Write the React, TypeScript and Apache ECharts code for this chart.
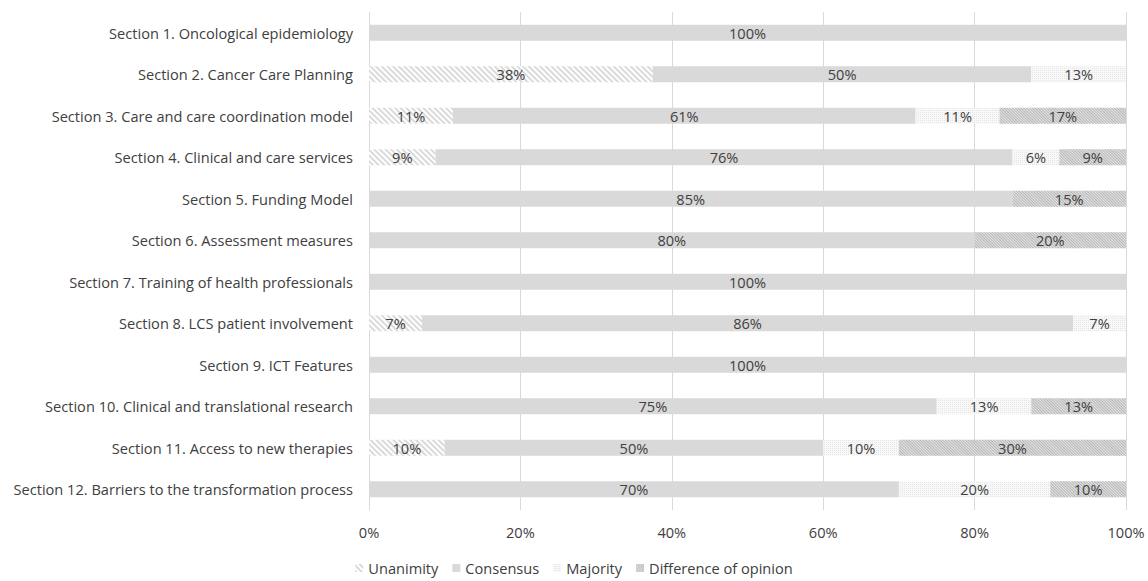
import React, { useEffect, useRef } from "react";
import * as echarts from "echarts";

const categories = [
  "Section 1. Oncological epidemiology",
  "Section 2. Cancer Care Planning",
  "Section 3. Care and care coordination model",
  "Section 4. Clinical and care services",
  "Section 5. Funding Model",
  "Section 6. Assessment measures",
  "Section 7. Training of health professionals",
  "Section 8. LCS patient involvement",
  "Section 9. ICT Features",
  "Section 10. Clinical and translational research",
  "Section 11. Access to new therapies",
  "Section 12. Barriers to the transformation process",
];

const unanimity = [null, 37.5, 11.1, 8.8, null, null, null, 7, null, null, 10, null];
const consensus = [100, 50, 61.1, 76.2, 85, 80, 100, 86, 100, 75, 50, 70];
const majority = [null, 12.5, 11.1, 6.2, null, null, null, 7, null, 12.5, 10, 20];
const difference = [null, null, 16.7, 8.8, 15, 20, null, null, null, 12.5, 30, 10];

const xTicks = [0, 20, 40, 60, 80, 100];

const FONT = "'Open Sans', Lato, sans-serif";
const TXT = "#404040";
const FS = 14.6;

export default function App() {
  const ref = useRef<HTMLDivElement>(null);
  useEffect(() => {
    document.body.style.margin = "0";
    const chart = echarts.init(ref.current!, null, { renderer: "svg" });
    const label = {
      show: true,
      position: "inside" as const,
      color: TXT,
      fontSize: FS,
      fontFamily: FONT,
      formatter: (p: any) => (p.value == null ? "" : Math.round(p.value) + "%"),
    };
    const mk = (name: string, data: any[], color: string, decal: any) => ({
      name,
      type: "bar",
      stack: "total",
      data,
      barWidth: 16,
      itemStyle: { color, decal },
      label,
      emphasis: { disabled: true },
    });
    chart.setOption({
      animation: false,
      aria: { enabled: false },
      textStyle: { fontFamily: FONT },
      grid: { left: 369, right: 22, top: 12, bottom: 71, containLabel: false },
      legend: {
        top: 560,
        padding: 0,
        left: "center",
        itemWidth: 8,
        itemHeight: 8,
        itemGap: 14,
        icon: "rect",
        textStyle: { color: TXT, fontSize: FS, fontFamily: FONT, lineHeight: 16 },
        data: ["Unanimity", "Consensus", "Majority", "Difference of opinion"],
      },
      xAxis: {
        type: "value",
        min: 0,
        max: 100,
        interval: 20,
        axisLine: { show: false },
        axisTick: { show: false },
        splitLine: { lineStyle: { color: "#d9d9d9", width: 1 } },
        axisLabel: {
          color: TXT,
          fontSize: FS,
          fontFamily: FONT,
          margin: 14,
          formatter: (v: number) => (xTicks.includes(v) ? v + "%" : ""),
        },
      },
      yAxis: {
        type: "category",
        inverse: true,
        data: categories,
        axisLine: { show: true, lineStyle: { color: "#d9d9d9" } },
        axisTick: { show: false },
        axisLabel: { color: TXT, fontSize: FS, fontFamily: FONT, margin: 16 },
      },
      series: [
        mk("Unanimity", unanimity, "#ffffff", {
          symbol: "rect",
          symbolSize: 1,
          color: "#dadada",
          dashArrayX: [1, 0],
          dashArrayY: [2, 2],
          rotation: Math.PI / 4,
        }),
        mk("Consensus", consensus, "#d9d9d9", "none"),
        mk("Majority", majority, "#f8f8f8", {
          symbol: "rect",
          symbolSize: 1,
          color: "#e6e6e6",
          dashArrayX: [1, 1],
          dashArrayY: [1, 1],
          rotation: 0,
        }),
        mk("Difference of opinion", difference, "#e6e6e6", {
          symbol: "rect",
          symbolSize: 1,
          color: "#b4b4b4",
          dashArrayX: [1, 0],
          dashArrayY: [1, 1],
          rotation: Math.PI / 4,
        }),
      ],
    });
    return () => chart.dispose();
  }, []);
  return <div ref={ref} style={{ position: "absolute", left: 0, top: 0, width: 1148, height: 581 }} />;
}
